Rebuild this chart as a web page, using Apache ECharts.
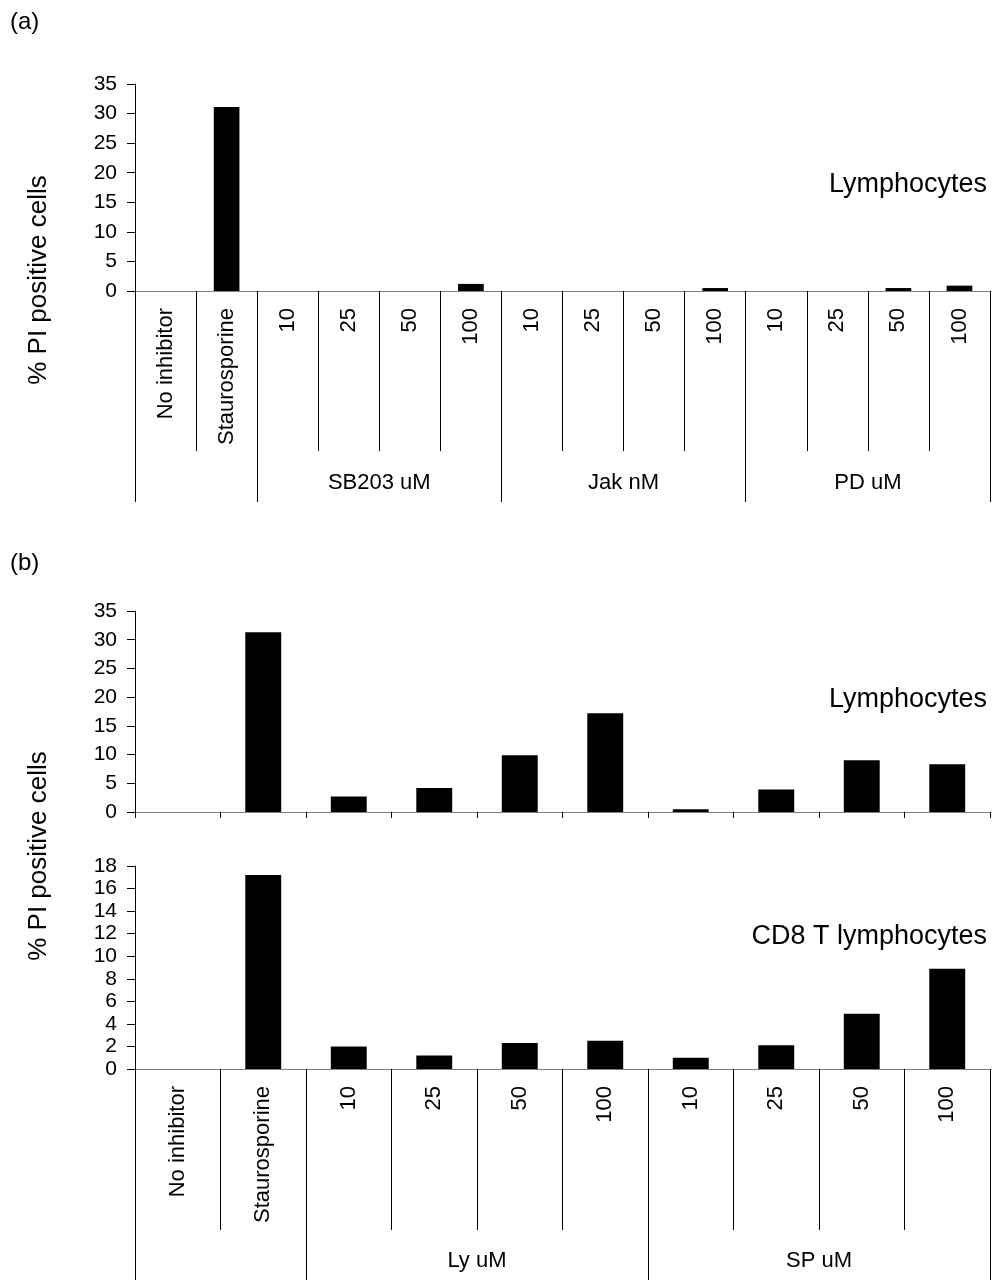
<!DOCTYPE html>
<html>
<head>
<meta charset="utf-8">
<script src="https://cdn.jsdelivr.net/npm/echarts@6/dist/echarts.min.js"></script>
<style>
  html, body { margin: 0; padding: 0; background: #fff; }
  #chart { width: 995px; height: 1280px; }
</style>
</head>
<body>
<div id="chart"></div>
<script>
// Panel (a): lymphocytes treated with SB203, Jak and PD inhibitors
const categoriesA = ['No inhibitor', 'Staurosporine', '10', '25', '50', '100', '10', '25', '50', '100', '10', '25', '50', '100'];
const groupNamesA = ['', 'SB203 uM', 'Jak nM', 'PD uM'];
const groupSizesA = [2, 4, 4, 4];
const lymphocytesA = [0, 31.1, 0, 0, 0, 1.2, 0, 0, 0, 0.5, 0, 0, 0.5, 0.9];

// Panel (b): lymphocytes and CD8 T lymphocytes treated with Ly and SP inhibitors
const categoriesB = ['No inhibitor', 'Staurosporine', '10', '25', '50', '100', '10', '25', '50', '100'];
const groupNamesB = ['', 'Ly uM', 'SP uM'];
const groupSizesB = [2, 4, 4];
const lymphocytesB = [0, 31.3, 2.7, 4.2, 9.9, 17.2, 0.5, 3.9, 9.0, 8.3];
const cd8B = [0, 17.2, 2.0, 1.2, 2.3, 2.5, 1.0, 2.1, 4.9, 8.9];

// y scales: [min, max, step]
const yScaleLymph = [0, 35, 5];
const yScaleCd8 = [0, 18, 2];

const FONT = '"Liberation Sans", Arial, sans-serif';
const AXIS_GREY = '#808080';

// boundaries between category groups, in category units
function groupBounds(sizes) {
  const b = [0];
  sizes.forEach(s => b.push(b[b.length - 1] + s));
  return b;
}
// centre of each named group, in category units
function groupCenters(sizes, names) {
  const b = groupBounds(sizes);
  const out = [];
  names.forEach((n, i) => { if (n) out.push({ value: (b[i] + b[i + 1]) / 2, name: n }); });
  return out;
}

function valueYAxis(gridIndex, scale) {
  return {
    type: 'value', gridIndex,
    min: scale[0], max: scale[1], interval: scale[2],
    axisLine: { show: true, lineStyle: { color: '#000', width: 1 } },
    axisTick: { show: true, length: 8, inside: false, lineStyle: { color: '#000' } },
    axisLabel: { fontSize: 21, margin: 18, color: '#000', fontFamily: FONT },
    splitLine: { show: false }
  };
}

// category axis carrying bars; long ticks make the column separators
function categoryXAxis(gridIndex, data, tickLen, showLabels) {
  return {
    type: 'category', gridIndex, position: 'bottom', data,
    axisLine: { show: true, onZero: false, lineStyle: { color: AXIS_GREY, width: 1 } },
    axisTick: { show: true, interval: 0, length: tickLen, lineStyle: { color: '#000', width: 1 } },
    axisLabel: {
      show: showLabels, interval: 0, rotate: 90, margin: 17,
      fontSize: 22, color: '#000', fontFamily: FONT
    },
    splitLine: { show: false }
  };
}

// second axis on the same grid: group separators and group names
function groupXAxis(gridIndex, sizes, names) {
  const bounds = groupBounds(sizes);
  const centers = groupCenters(sizes, names);
  const total = bounds[bounds.length - 1];
  return {
    type: 'value', gridIndex, position: 'bottom',
    min: 0, max: total,
    axisLine: { show: false },
    splitLine: { show: false },
    axisTick: { show: true, customValues: bounds, length: 211, lineStyle: { color: '#000', width: 1 } },
    axisLabel: {
      show: true, customValues: centers.map(c => c.value),
      formatter: v => { const c = centers.find(g => Math.abs(g.value - v) < 1e-6); return c ? c.name : ''; },
      margin: 192, verticalAlign: 'middle',
      fontSize: 22, color: '#000', fontFamily: FONT
    }
  };
}

function barSeries(xi, yi, data) {
  return {
    type: 'bar', xAxisIndex: xi, yAxisIndex: yi, data,
    barWidth: '42%',
    itemStyle: { color: '#000' },
    silent: true, animation: false
  };
}

function label(text, x, y, size, align, rotation) {
  return {
    type: 'text', x, y, rotation: rotation || 0,
    style: { text, fontSize: size, fontFamily: FONT, fill: '#000', align, verticalAlign: 'middle' }
  };
}

const gridBase = { left: 135, right: 5, containLabel: false, outerBoundsMode: 'none' };

const option = {
  backgroundColor: '#fff',
  animation: false,
  textStyle: { fontFamily: FONT, color: '#000' },
  grid: [
    Object.assign({ top: 84, height: 207 }, gridBase),
    Object.assign({ top: 611, height: 201 }, gridBase),
    Object.assign({ top: 866, height: 203 }, gridBase)
  ],
  xAxis: [
    categoryXAxis(0, categoriesA, 160, true),
    groupXAxis(0, groupSizesA, groupNamesA),
    categoryXAxis(1, categoriesB, 6, false),
    categoryXAxis(2, categoriesB, 161, true),
    groupXAxis(2, groupSizesB, groupNamesB)
  ],
  yAxis: [
    valueYAxis(0, yScaleLymph),
    valueYAxis(1, yScaleLymph),
    valueYAxis(2, yScaleCd8)
  ],
  series: [
    barSeries(0, 0, lymphocytesA),
    barSeries(2, 1, lymphocytesB),
    barSeries(3, 2, cd8B)
  ],
  graphic: [
    label('(a)', 10, 22, 24, 'left'),
    label('(b)', 10, 563, 24, 'left'),
    label('Lymphocytes', 987, 185, 27, 'right'),
    label('Lymphocytes', 987, 700, 27, 'right'),
    label('CD8 T lymphocytes', 987, 937, 27, 'right'),
    label('% PI positive cells', 39, 280, 26, 'center', Math.PI / 2),
    label('% PI positive cells', 39, 856, 26, 'center', Math.PI / 2)
  ]
};

const chart = echarts.init(document.getElementById('chart'), null, { renderer: 'canvas' });
chart.setOption(option);
</script>
</body>
</html>
